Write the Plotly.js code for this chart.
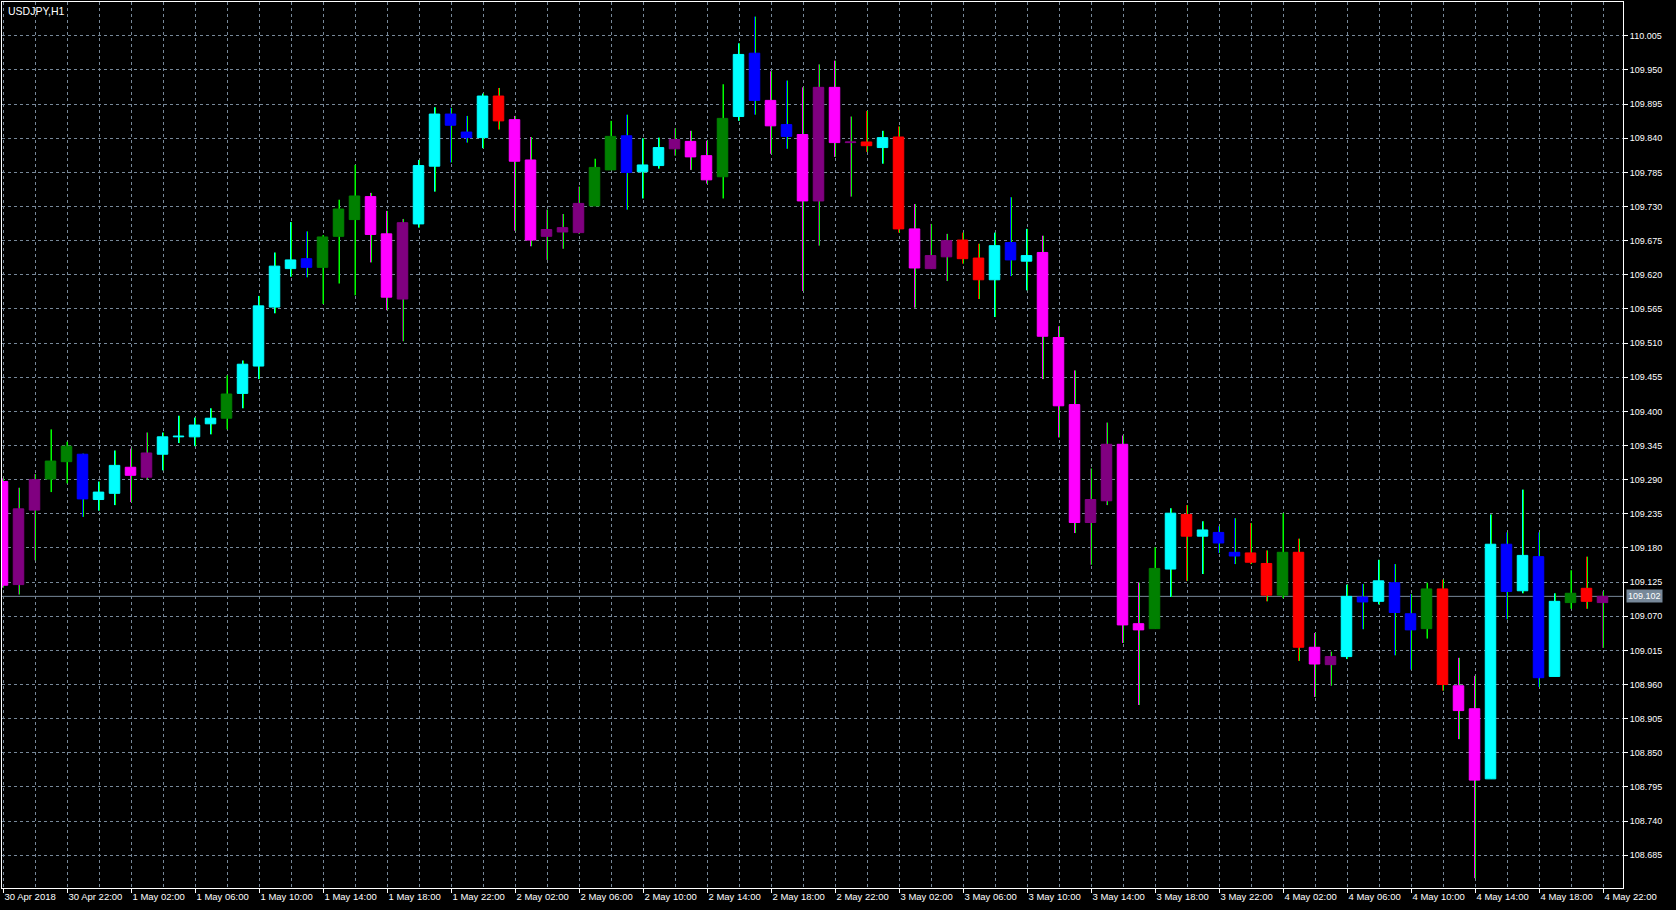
<!DOCTYPE html>
<html>
<head>
<meta charset="utf-8">
<script src="https://cdn.plot.ly/plotly-3.0.1.min.js"></script>
<style>
html,body{margin:0;padding:0;background:#000;overflow:hidden;}
#chart{width:1676px;height:910px;}
</style>
</head>
<body>
<div id="chart"></div>
<script>
// ---------------- data ----------------
const symbolTitle = 'USDJPY,H1';

// one label every 4 hourly candles (candle 0 = 30 Apr 2018 18:00)
const tickLabels = ['30 Apr 2018','30 Apr 22:00','1 May 02:00','1 May 06:00','1 May 10:00','1 May 14:00',
  '1 May 18:00','1 May 22:00','2 May 02:00','2 May 06:00','2 May 10:00','2 May 14:00','2 May 18:00',
  '2 May 22:00','3 May 02:00','3 May 06:00','3 May 10:00','3 May 14:00','3 May 18:00','3 May 22:00',
  '4 May 02:00','4 May 06:00','4 May 10:00','4 May 14:00','4 May 18:00','4 May 22:00'];

const openP = [
  109.287,109.121,109.241,109.291,109.319,109.331,109.258,109.268,109.310,109.294,
  109.331,109.359,109.359,109.380,109.389,109.429,109.473,109.568,109.630,109.646,
  109.632,109.682,109.709,109.746,109.686,109.581,109.702,109.795,109.879,109.850,
  109.841,109.908,109.870,109.805,109.682,109.689,109.688,109.731,109.789,109.844,
  109.786,109.796,109.823,109.835,109.812,109.778,109.875,109.977,109.901,109.862,
  109.846,109.739,109.922,109.833,109.834,109.825,109.842,109.694,109.630,109.649,
  109.676,109.647,109.612,109.672,109.642,109.656,109.519,109.411,109.221,109.256,
  109.347,109.058,109.050,109.146,109.234,109.199,109.205,109.173,109.172,109.155,
  109.104,109.173,109.020,108.992,109.005,109.101,109.094,109.124,109.074,109.050,
  109.114,108.958,108.921,108.808,109.186,109.111,109.166,108.973,109.092,109.115,
  109.092];
const highP = [
  109.292,109.277,109.299,109.371,109.351,109.332,109.287,109.337,109.340,109.366,
  109.366,109.393,109.390,109.405,109.458,109.482,109.586,109.656,109.705,109.690,
  109.684,109.741,109.797,109.752,109.723,109.710,109.805,109.890,109.889,109.876,
  109.912,109.921,109.876,109.842,109.725,109.718,109.762,109.807,109.868,109.878,
  109.840,109.841,109.856,109.852,109.836,109.927,109.993,110.036,109.948,109.933,
  109.922,109.959,109.965,109.875,109.884,109.852,109.859,109.734,109.702,109.686,
  109.688,109.670,109.688,109.745,109.694,109.683,109.537,109.466,109.308,109.382,
  109.361,109.124,109.181,109.244,109.249,109.223,109.215,109.228,109.220,109.176,
  109.236,109.195,109.043,109.013,109.121,109.122,109.161,109.154,109.106,109.124,
  109.129,109.003,108.974,109.234,109.205,109.274,109.205,109.107,109.144,109.166,
  109.110];
const lowP = [
  109.116,109.105,109.160,109.270,109.284,109.230,109.240,109.249,109.254,109.290,
  109.305,109.349,109.344,109.363,109.371,109.405,109.452,109.558,109.617,109.616,
  109.573,109.606,109.587,109.640,109.563,109.513,109.696,109.754,109.801,109.833,
  109.824,109.854,109.691,109.666,109.644,109.662,109.686,109.731,109.789,109.725,
  109.743,109.791,109.812,109.789,109.767,109.743,109.868,109.878,109.815,109.823,
  109.594,109.667,109.810,109.746,109.818,109.799,109.688,109.567,109.630,109.610,
  109.638,109.581,109.552,109.618,109.595,109.452,109.358,109.204,109.153,109.249,
  109.027,108.927,109.050,109.101,109.127,109.138,109.172,109.154,109.154,109.094,
  109.099,108.998,108.940,108.958,109.001,109.049,109.089,109.007,108.984,109.034,
  108.950,108.872,108.648,108.808,109.065,109.107,108.956,108.973,109.082,109.082,
  109.019];
const closeP = [
  109.120,109.243,109.290,109.320,109.344,109.259,109.270,109.313,109.297,109.333,
  109.359,109.360,109.378,109.389,109.428,109.476,109.570,109.634,109.644,109.632,
  109.681,109.726,109.747,109.685,109.584,109.704,109.796,109.879,109.861,109.841,
  109.908,109.868,109.803,109.676,109.693,109.696,109.735,109.793,109.843,109.785,
  109.797,109.825,109.838,109.810,109.773,109.872,109.975,109.901,109.860,109.843,
  109.739,109.922,109.833,109.834,109.828,109.841,109.694,109.631,109.651,109.675,
  109.646,109.612,109.667,109.644,109.651,109.521,109.409,109.221,109.258,109.347,
  109.056,109.048,109.147,109.236,109.199,109.209,109.188,109.167,109.157,109.104,
  109.173,109.020,108.993,109.005,109.102,109.093,109.127,109.076,109.048,109.114,
  108.960,108.918,108.806,109.186,109.110,109.168,108.971,109.094,109.107,109.094,
  109.102];
// indicator state of each candle (C cyan, G green, B blue, M magenta, P purple, R red)
const candleState = [
  'M','P','P','G','G','B','C','C','M','P',
  'C','C','C','C','G','C','C','C','C','B',
  'G','G','G','M','M','P','C','C','B','B',
  'C','R','M','M','P','P','P','G','G','B',
  'C','C','P','M','M','G','C','B','M','B',
  'M','P','M','P','R','C','R','M','P','P',
  'R','R','C','B','C','M','M','M','P','P',
  'M','M','G','C','R','C','B','B','R','R',
  'G','R','M','P','C','B','C','B','B','G',
  'R','M','M','C','B','C','B','C','G','R',
  'P'];

// ---------------- styles ----------------
const palette = {C:'#00FFFF', G:'#008000', B:'#0000FF', M:'#FF00FF', P:'#800080', R:'#FF0000'};
const wickColor = '#00FF00';
const gridColor = '#778899';
const fontFam = '"Liberation Sans", Arial, sans-serif';

const idx = openP.map((_, i) => i);
const lastClose = closeP[closeP.length - 1];

const traces = [];
// green wick layer on the base axis (drawn underneath)
traces.push({
  type: 'ohlc', x: idx, open: openP, high: highP, low: lowP, close: closeP,
  xaxis: 'x', yaxis: 'y', tickwidth: 0, hoverinfo: 'skip',
  increasing: {line: {color: wickColor, width: 1}},
  decreasing: {line: {color: wickColor, width: 1}}
});
// coloured candles on the overlaid axis (drawn on top, one pixel to the left)
Object.keys(palette).forEach(code => {
  const sel = idx.filter(i => candleState[i] === code);
  const col = palette[code];
  traces.push({
    type: 'candlestick', xaxis: 'x2', yaxis: 'y',
    x: sel, open: sel.map(i => openP[i]), high: sel.map(i => highP[i]),
    low: sel.map(i => lowP[i]), close: sel.map(i => closeP[i]),
    whiskerwidth: 0, hoverinfo: 'skip',
    increasing: {line: {color: col, width: 1}, fillcolor: col},
    decreasing: {line: {color: col, width: 1}, fillcolor: col}
  });
});

const pxPerCandle = 16;
const xr0 = -0.03125;
const xr1 = xr0 + 1621 / pxPerCandle;
const shift = 1 / pxPerCandle;

const layout = {
  width: 1676, height: 910,
  paper_bgcolor: '#000000', plot_bgcolor: '#000000',
  margin: {l: 2, r: 53, t: 2, b: 22, pad: 0},
  showlegend: false,
  font: {family: fontFam, size: 9, color: '#FFFFFF'},
  boxmode: 'overlay', boxgap: 0.344, boxgroupgap: 0,
  hovermode: false,
  xaxis: {
    range: [xr0 - shift, xr1 - shift], fixedrange: true,
    rangeslider: {visible: false},
    tickmode: 'array',
    tickvals: tickLabels.map((_, k) => k * 4),
    ticktext: tickLabels,
    ticks: 'outside', ticklen: 4, tickcolor: '#FFFFFF', tickwidth: 1,
    ticklabelposition: 'outside right',
    tickfont: {family: fontFam, size: 9.5, color: '#FFFFFF'},
    showgrid: true, gridcolor: gridColor, griddash: '3px,3px', gridwidth: 1,
    minor: {tickmode: 'linear', tick0: 0, dtick: 2, showgrid: true,
            gridcolor: gridColor, griddash: '3px,3px', gridwidth: 1, ticks: ''},
    showline: true, mirror: true, linecolor: '#FFFFFF', linewidth: 1,
    zeroline: false
  },
  xaxis2: {
    overlaying: 'x', anchor: 'y', range: [xr0, xr1],
    visible: false, fixedrange: true, rangeslider: {visible: false}
  },
  yaxis: {
    side: 'right', range: [108.6322, 110.0595], fixedrange: true,
    tickmode: 'linear', tick0: 108.685, dtick: 0.055, tickformat: '.3f',
    ticks: 'outside', ticklen: 4, tickcolor: '#FFFFFF', tickwidth: 1,
    tickfont: {family: fontFam, size: 9, color: '#FFFFFF'},
    showgrid: true, gridcolor: gridColor, griddash: '3px,3px', gridwidth: 1,
    showline: true, mirror: true, linecolor: '#FFFFFF', linewidth: 1,
    zeroline: false
  },
  shapes: [{
    type: 'line', xref: 'paper', x0: 0, x1: 1, yref: 'y', y0: lastClose, y1: lastClose,
    line: {color: gridColor, width: 1}, layer: 'below'
  }],
  annotations: [
    {text: symbolTitle, xref: 'paper', yref: 'paper', x: 0, y: 1, xanchor: 'left', yanchor: 'top',
     xshift: 4, yshift: -1, showarrow: false, font: {family: fontFam, size: 10.5, color: '#FFFFFF'}},
    {text: lastClose.toFixed(3), xref: 'paper', yref: 'y', x: 1, y: lastClose, xanchor: 'left', yanchor: 'middle',
     xshift: 3, showarrow: false, bgcolor: gridColor, borderpad: 1,
     font: {family: fontFam, size: 9, color: '#FFFFFF'}}
  ]
};

Plotly.newPlot('chart', traces, layout, {staticPlot: true, displayModeBar: false});
</script>
</body>
</html>
